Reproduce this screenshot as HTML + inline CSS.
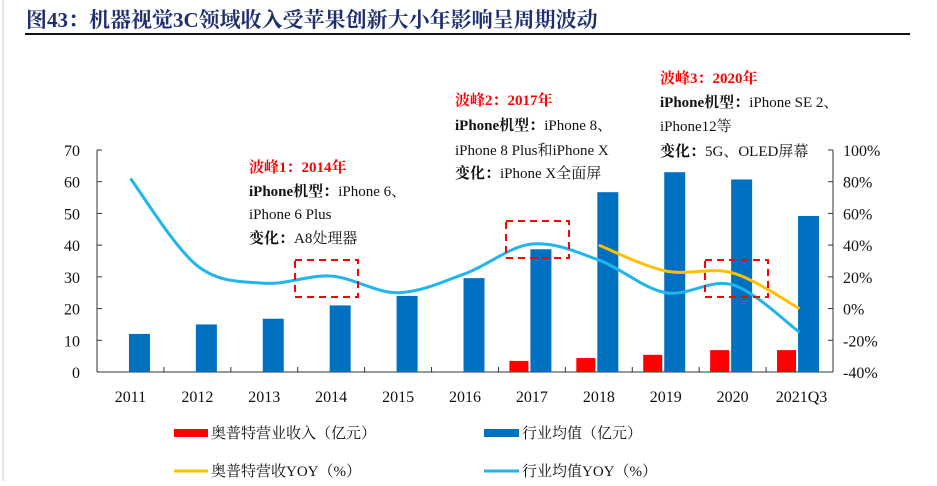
<!DOCTYPE html>
<html><head><meta charset="utf-8"><style>
body{margin:0;background:#fff;width:937px;height:481px;overflow:hidden;font-family:"Liberation Serif","Noto Serif CJK SC",serif;}
</style></head><body>
<svg id="chart" width="937" height="481" xmlns="http://www.w3.org/2000/svg" font-family="Liberation Serif, Noto Serif CJK SC, serif">
<line x1="3" y1="0" x2="3" y2="481" stroke="#ccc"/>
<text x="26" y="27" font-size="21" font-weight="bold" fill="#1f2f6e">图43：机器视觉3C领域收入受苹果创新大小年影响呈周期波动</text>
<line x1="25" y1="34" x2="910" y2="34" stroke="#111" stroke-width="2"/>
<g id="axes"></g><g id="bars"></g><g id="lines"></g>
<g font-size="15">
<text x="249" y="172" fill="#ff0000" font-weight="bold">波峰1：2014年</text>
<text x="249" y="196" fill="#111"><tspan font-weight="bold">iPhone机型：</tspan>iPhone 6、</text>
<text x="249" y="219" fill="#111">iPhone 6 Plus</text>
<text x="249" y="243" fill="#111"><tspan font-weight="bold">变化：</tspan>A8处理器</text>
</g>
<g font-size="15">
<text x="455" y="105" fill="#ff0000" font-weight="bold">波峰2：2017年</text>
<text x="455" y="130" fill="#111"><tspan font-weight="bold">iPhone机型：</tspan>iPhone 8、</text>
<text x="455" y="155" fill="#111">iPhone 8 Plus和iPhone X</text>
<text x="455" y="178" fill="#111"><tspan font-weight="bold">变化：</tspan>iPhone X全面屏</text>
</g>
<g font-size="15">
<text x="660" y="83" fill="#ff0000" font-weight="bold">波峰3：2020年</text>
<text x="660" y="107" fill="#111"><tspan font-weight="bold">iPhone机型：</tspan>iPhone SE 2、</text>
<text x="660" y="131" fill="#111">iPhone12等</text>
<text x="660" y="156" fill="#111"><tspan font-weight="bold">变化：</tspan>5G、OLED屏幕</text>
</g>
<g fill="none" stroke="#ff0000" stroke-width="2" stroke-dasharray="7,5">
<rect x="295" y="260" width="63" height="37"/>
<rect x="506" y="221" width="63" height="37"/>
<rect x="705" y="260" width="63" height="37"/>
</g>
<g font-size="15" fill="#111" font-family="Liberation Serif, Noto Serif CJK SC, serif">
<rect x="174" y="429" width="34" height="8" fill="#ff0000"/>
<text x="211" y="438">奥普特营业收入（亿元）</text>
<rect x="484" y="429" width="35" height="8" fill="#0070c0"/>
<text x="522" y="438">行业均值（亿元）</text>
<line x1="174" y1="471" x2="208" y2="471" stroke="#ffc000" stroke-width="3"/>
<text x="211" y="476">奥普特营收YOY（%）</text>
<line x1="484" y1="471" x2="519" y2="471" stroke="#1fb5ee" stroke-width="3"/>
<text x="522" y="476">行业均值YOY（%）</text>
</g>
</svg>
<script>
const categories=["2011","2012","2013","2014","2015","2016","2017","2018","2019","2020","2021Q3"];
const industryValues=[12,15,16.8,21,24,29.6,38.7,56.7,63,60.7,49.2];
const revenueValues=[null,null,null,null,null,null,3.5,4.4,5.4,6.9,6.9];
const industryYoy=[82,27,16,20.5,10,22,40.7,30.6,10,15,-15];
const revenueYoy=[null,null,null,null,null,null,null,40,23.7,22.5,0];
const leftTicks=[0,10,20,30,40,50,60,70];
const rightTicks=[-40,-20,0,20,40,60,80,100];
const X0=97,X1=833,Y0=372,Y1=150,n=categories.length,cw=(X1-X0)/n;
const yL=v=>Y0-(v/70)*(Y0-Y1);
const yR=v=>Y0-((v+40)/140)*(Y0-Y1);
const xC=i=>X0+cw*(i+0.5);
const NS="http://www.w3.org/2000/svg";
function mk(tag,attrs,parent,txt){const e=document.createElementNS(NS,tag);for(const k in attrs)e.setAttribute(k,attrs[k]);if(txt!==undefined)e.textContent=txt;document.getElementById(parent).appendChild(e);return e;}
let e;
e=mk("line",{x1:X0,y1:Y1,x2:X0,y2:Y0,stroke:"#333"},"axes");


e=mk("line",{x1:X1,y1:Y1,x2:X1,y2:Y0,stroke:"#333"},"axes");


e=mk("line",{x1:X0,y1:Y0,x2:X1,y2:Y0,stroke:"#333"},"axes");


leftTicks.forEach(v=>{mk("line",{x1:X0,y1:yL(v),x2:X0+5,y2:yL(v),stroke:"#333"},"axes");
e=mk("text",{x:X0-17,y:yL(v)+6,"text-anchor":"end","font-size":"16",fill:"#111"},"axes",String(v));

});
rightTicks.forEach(v=>{mk("line",{x1:X1,y1:yR(v),x2:X1-5,y2:yR(v),stroke:"#333"},"axes");
e=mk("text",{x:X1+10,y:yR(v)+6,"font-size":"16",fill:"#111"},"axes",v+"%");

});
categories.forEach((c,i)=>{if(i>0)mk("line",{x1:X0+cw*i,y1:Y0,x2:X0+cw*i,y2:Y0-5,stroke:"#333"},"axes");
e=mk("text",{x:xC(i)+(i==n-1?2:0),y:Y0+30,"text-anchor":"middle","font-size":"16",fill:"#111"},"axes",c);

});
const bw=21;
industryValues.forEach((v,i)=>{e=mk("rect",{x:xC(i)-1.5,y:yL(v),width:bw,height:Y0-yL(v),fill:"#0070c0"},"bars");

});
revenueValues.forEach((v,i)=>{if(v==null)return;e=mk("rect",{x:xC(i)-1.5-bw,y:yL(v),width:bw-2,height:Y0-yL(v),fill:"#ff0000"},"bars");

});
function smooth(pts){let d="M"+pts[0][0]+","+pts[0][1];for(let i=0;i<pts.length-1;i++){const p0=pts[i-1]||pts[i],p1=pts[i],p2=pts[i+1],p3=pts[i+2]||p2;const t=6;d+=" C"+(p1[0]+(p2[0]-p0[0])/t)+","+(p1[1]+(p2[1]-p0[1])/t)+" "+(p2[0]-(p3[0]-p1[0])/t)+","+(p2[1]-(p3[1]-p1[1])/t)+" "+p2[0]+","+p2[1];}return d;}
const ip=industryYoy.map((v,i)=>[xC(i),yR(v)]);
e=mk("path",{d:smooth(ip),fill:"none",stroke:"#1fb5ee","stroke-width":3},"lines");


const rp=[];revenueYoy.forEach((v,i)=>{if(v!=null)rp.push([xC(i),yR(v)]);});
e=mk("path",{d:smooth(rp),fill:"none",stroke:"#ffc000","stroke-width":3},"lines");


</script>
</body></html>
